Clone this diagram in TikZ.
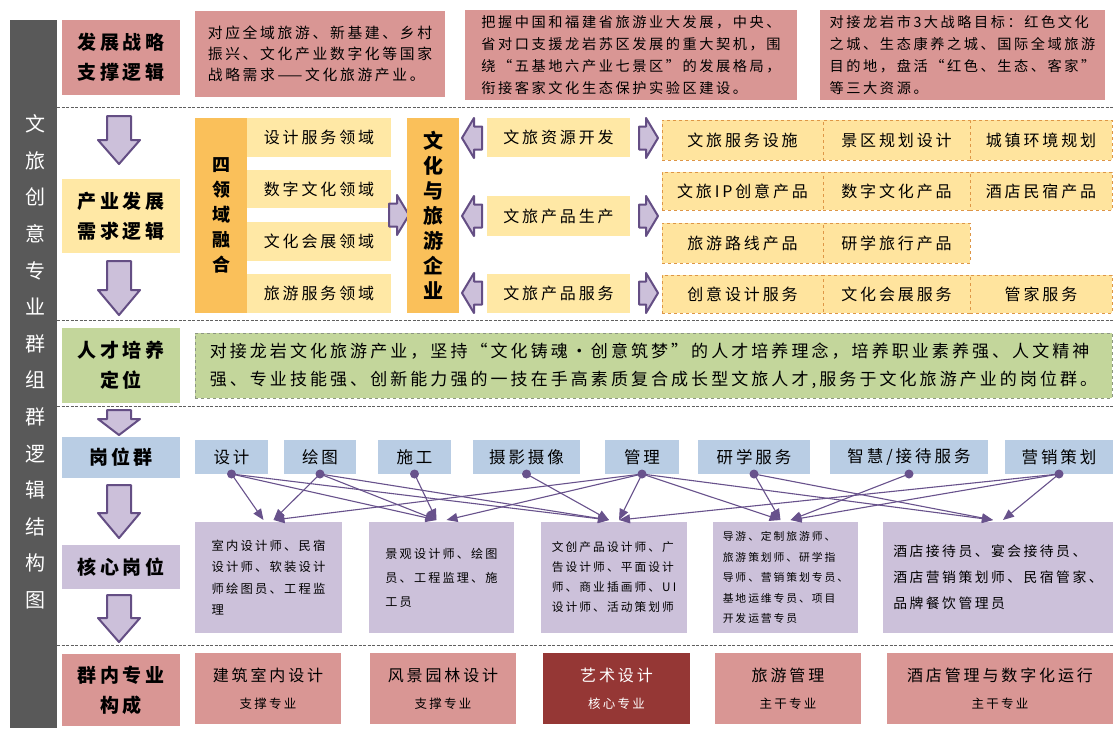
\documentclass[tikz,border=0pt]{standalone}
\usepackage{fontspec}
\setmainfont{Noto Sans CJK SC}[LetterSpace=18]
\usetikzlibrary{arrows.meta}

\definecolor{bargray}{RGB}{89,89,89}
\definecolor{pinkfill}{RGB}{217,150,148}
\definecolor{wine}{RGB}{149,55,53}
\definecolor{paleyellow}{RGB}{255,232,165}
\definecolor{orangefill}{RGB}{250,192,90}
\definecolor{dashfill}{RGB}{255,228,158}
\definecolor{dashline}{RGB}{222,150,70}
\definecolor{greenfill}{RGB}{195,214,155}
\definecolor{greenline}{RGB}{140,150,130}
\definecolor{bluefill}{RGB}{185,205,228}
\definecolor{lavfill}{RGB}{204,193,218}
\definecolor{arrowedge}{RGB}{100,78,132}
\definecolor{arrowfill}{RGB}{204,192,218}
\definecolor{linkcol}{RGB}{104,82,140}
\definecolor{sepgray}{RGB}{95,95,95}

\tikzset{
  cell/.style={inner sep=0pt,outer sep=0pt,anchor=north west,align=center},
  pinkcell/.style={cell,fill=pinkfill},
  yellowcell/.style={cell,fill=paleyellow},
  orangecell/.style={cell,fill=orangefill},
  dashcell/.style={cell,fill=dashfill,draw=dashline,dashed,line width=0.7pt},
  greencell/.style={cell,fill=greenfill},
  bluecell/.style={cell,fill=bluefill},
  lavcell/.style={cell,fill=lavfill},
  sideheading/.style={font=\fontsize{19}{30}\selectfont\bfseries},
  areatext/.style={font=\fontsize{16}{20}\selectfont},
  jobtext/.style={font=\fontsize{16.5}{20}\selectfont},
  septline/.style={draw=sepgray,line width=0.9pt,dash pattern=on 3pt off 1.5pt},
  link/.style={draw=linkcol,line width=1.1pt,-{Triangle[length=11pt,width=9pt]}},
  arrowshape/.style={fill=arrowfill,draw=arrowedge,line width=2pt,line join=round},
}

% #1 tail, #2 direction, #3 length, #4 head length, #5 shaft width, #6 head width
\newcommand{\blockarrow}[6]{%
  \draw[arrowshape,shift={#1},rotate=#2]
    (0,{-#5/2}) -- ({#3-#4},{-#5/2}) -- ({#3-#4},{-#6/2}) -- (#3,0)
    -- ({#3-#4},{#6/2}) -- ({#3-#4},{#5/2}) -- (0,{#5/2}) -- cycle;}

\begin{document}
\begin{tikzpicture}[x=1pt,y=-1pt]
	\fill[white] (0,0) rectangle (1113,731);
	\useasboundingbox (0,0) rectangle (1113,731);

	% left bar
	\fill[bargray] (10,20) rectangle (57,728);
	\node[text=white,align=center,font=\fontsize{20}{36.6}\selectfont] (bartitle) at (35,362)
		{文\\旅\\创\\意\\专\\业\\群\\组\\群\\逻\\辑\\结\\构\\图};

	% separators
	\draw[septline] (57,107) -- (1113,107);
	\draw[septline] (57,320) -- (1113,320);
	\draw[septline] (57,406) -- (1113,406);
	\draw[septline] (57,645) -- (1113,645);

	% row headings
	\node[pinkcell,sideheading,minimum width=118,minimum height=75] (head1) at (62,20) {发展战略\\支撑逻辑};
	\node[yellowcell,sideheading,minimum width=118,minimum height=74] (head2) at (62,179) {产业发展\\需求逻辑};
	\node[greencell,sideheading,minimum width=118,minimum height=75] (head3) at (62,328) {人才培养\\定位};
	\node[bluecell,sideheading,minimum width=118,minimum height=41] (head4) at (62,437) {岗位群};
	\node[lavcell,sideheading,minimum width=118,minimum height=44] (head5) at (62,545) {核心岗位};
	\node[pinkcell,sideheading,minimum width=118,minimum height=72] (head6) at (62,654) {群内专业\\构成};

	\blockarrow{(119,116)}{-90}{48}{24}{24}{42}
	\blockarrow{(119,261)}{-90}{54}{25}{24}{42}
	\blockarrow{(119,410)}{-90}{25}{16}{24}{42}
	\blockarrow{(119,485)}{-90}{53}{25}{24}{42}
	\blockarrow{(119,595)}{-90}{47}{24}{24}{42}

	% strategy
	\node[pinkcell,align=left,font=\fontsize{14.8}{21}\selectfont,minimum width=250,minimum height=86] (goal1) at (195,11)
		{对应全域旅游、新基建、乡村\\振兴、文化产业数字化等国家\\战略需求——文化旅游产业。};
	\node[pinkcell,align=left,font=\fontsize{14.2}{22}\selectfont,minimum width=332,minimum height=90] (goal2) at (465,10)
		{把握中国和福建省旅游业大发展，中央、\\省对口支援龙岩苏区发展的重大契机，围\\绕“五基地六产业七景区”的发展格局，\\衔接客家文化生态保护实验区建设。};
	\node[pinkcell,align=left,font=\fontsize{14.2}{22}\selectfont,minimum width=285,minimum height=90] (goal3) at (820,10)
		{对接龙岩市3大战略目标：红色文化\\之城、生态康养之城、国际全域旅游\\目的地，盘活“红色、生态、客家”\\等三大资源。};

	% industry
	\node[orangecell,font=\fontsize{18}{25}\selectfont\bfseries,minimum width=52,minimum height=195] (fusion) at (195,118) {四\\领\\域\\融\\合};
	\node[yellowcell,areatext,minimum width=144,minimum height=39] (field1) at (247,118) {设计服务领域};
	\node[yellowcell,areatext,minimum width=144,minimum height=38] (field2) at (247,170) {数字文化领域};
	\node[yellowcell,areatext,minimum width=144,minimum height=39] (field3) at (247,222) {文化会展领域};
	\node[yellowcell,areatext,minimum width=144,minimum height=39] (field4) at (247,274) {旅游服务领域};
	\blockarrow{(389,215)}{0}{20}{12}{23}{40}
	\node[orangecell,font=\fontsize{20}{25}\selectfont\bfseries,minimum width=52,minimum height=195] (firm) at (407,118) {文\\化\\与\\旅\\游\\企\\业};

	\blockarrow{(482,138)}{180}{20}{12}{23}{40}
	\blockarrow{(482,216)}{180}{20}{12}{23}{40}
	\blockarrow{(482,293)}{180}{20}{12}{23}{40}
	\node[yellowcell,areatext,minimum width=143,minimum height=39] (chain1) at (487,118) {文旅资源开发};
	\node[yellowcell,areatext,minimum width=143,minimum height=40] (chain2) at (487,196) {文旅产品生产};
	\node[yellowcell,areatext,minimum width=143,minimum height=39] (chain3) at (487,274) {文旅产品服务};
	\blockarrow{(639,138)}{0}{19}{12}{23}{40}
	\blockarrow{(639,216)}{0}{19}{12}{23}{40}
	\blockarrow{(639,293)}{0}{19}{12}{23}{40}

	\node[dashcell,areatext,minimum width=161,minimum height=40] (prod11) at (662,120) {文旅服务设施};
	\node[dashcell,areatext,minimum width=147,minimum height=40] (prod12) at (823,120) {景区规划设计};
	\node[dashcell,areatext,minimum width=142,minimum height=40] (prod13) at (970,120) {城镇环境规划};
	\node[dashcell,areatext,minimum width=161,minimum height=38] (prod21) at (662,172) {文旅IP创意产品};
	\node[dashcell,areatext,minimum width=147,minimum height=38] (prod22) at (823,172) {数字文化产品};
	\node[dashcell,areatext,minimum width=142,minimum height=38] (prod23) at (970,172) {酒店民宿产品};
	\node[dashcell,areatext,minimum width=161,minimum height=40] (prod31) at (662,223) {旅游路线产品};
	\node[dashcell,areatext,minimum width=147,minimum height=40] (prod32) at (823,223) {研学旅行产品};
	\node[dashcell,areatext,minimum width=161,minimum height=38] (prod41) at (662,275) {创意设计服务};
	\node[dashcell,areatext,minimum width=147,minimum height=38] (prod42) at (823,275) {文化会展服务};
	\node[dashcell,areatext,minimum width=142,minimum height=38] (prod43) at (970,275) {管家服务};

	% talent
	\node[greencell,draw=greenline,dashed,line width=0.7pt,align=left,font=\fontsize{17}{28}\selectfont,minimum width=917,minimum height=65] (talent) at (195,333)
		{对接龙岩文化旅游产业，坚持“文化铸魂·创意筑梦”的人才培养理念，培养职业素养强、人文精神\\强、专业技能强、创新能力强的一技在手高素质复合成长型文旅人才,服务于文化旅游产业的岗位群。};

	% job clusters
	\node[bluecell,jobtext,minimum width=73,minimum height=34] (j1) at (195,440) {设计};
	\node[bluecell,jobtext,minimum width=72,minimum height=34] (j2) at (284,440) {绘图};
	\node[bluecell,jobtext,minimum width=73,minimum height=34] (j3) at (378,440) {施工};
	\node[bluecell,jobtext,minimum width=107,minimum height=34] (j4) at (473,440) {摄影摄像};
	\node[bluecell,jobtext,minimum width=74,minimum height=34] (j5) at (605,440) {管理};
	\node[bluecell,jobtext,minimum width=112,minimum height=34] (j6) at (698,440) {研学服务};
	\node[bluecell,jobtext,minimum width=158,minimum height=34] (j7) at (830,440) {智慧/接待服务};
	\node[bluecell,jobtext,minimum width=108,minimum height=34] (j8) at (1005,440) {营销策划};

	% core posts
	\node[lavcell,align=left,font=\fontsize{12.3}{21.5}\selectfont,minimum width=147,minimum height=111] (c1) at (195,522)
		{室内设计师、民宿\\设计师、软装设计\\师绘图员、工程监\\理};
	\node[lavcell,align=left,font=\fontsize{12.1}{24}\selectfont,minimum width=145,minimum height=111] (c2) at (369,522)
		{景观设计师、绘图\\员、工程监理、施\\工员};
	\node[lavcell,align=left,font=\fontsize{11.7}{20}\selectfont,minimum width=146,minimum height=111] (c3) at (541,522)
		{文创产品设计师、广\\告设计师、平面设计\\师、商业插画师、UI\\设计师、活动策划师};
	\node[lavcell,align=left,font=\fontsize{10.8}{20.5}\selectfont,minimum width=145,minimum height=111] (c4) at (713,522)
		{导游、定制旅游师、\\旅游策划师、研学指\\导师、营销策划专员、\\基地运维专员、项目\\开发运营专员};
	\node[lavcell,align=left,font=\fontsize{13.8}{26}\selectfont,minimum width=230,minimum height=111] (c5) at (883,522)
		{酒店接待员、宴会接待员、\\酒店营销策划师、民宿管家、\\品牌餐饮管理员};

	\coordinate (c1l) at ([xshift=-5pt,yshift=2pt]c1.north);
	\coordinate (c1r) at ([xshift=5pt,yshift=2pt]c1.north);
	\coordinate (c2l) at ([xshift=-5pt,yshift=2pt]c2.north);
	\coordinate (c2r) at ([xshift=5pt,yshift=2pt]c2.north);
	\coordinate (c3l) at ([xshift=-5pt,yshift=2pt]c3.north);
	\coordinate (c3r) at ([xshift=5pt,yshift=2pt]c3.north);
	\coordinate (c4l) at ([xshift=-5pt,yshift=2pt]c4.north);
	\coordinate (c4r) at ([xshift=5pt,yshift=2pt]c4.north);
	\coordinate (c5l) at ([xshift=-5pt,yshift=2pt]c5.north);
	\coordinate (c5r) at ([xshift=5pt,yshift=2pt]c5.north);

	\draw[link] (j1.south) -- (c1l);
	\draw[link] (j1.south) -- (c2l);
	\draw[link] (j1.south) -- (c3l);
	\draw[link] (j2.south) -- (c1r);
	\draw[link] (j2.south) -- (c2l);
	\draw[link] (j2.south) -- (c3l);
	\draw[link] (j3.south) -- (c2l);
	\draw[link] (j4.south) -- (c3l);
	\draw[link] (j5.south) -- (c1r);
	\draw[link] (j5.south) -- (c2r);
	\draw[link] (j5.south) -- (c3r);
	\draw[link] (j5.south) -- (c4l);
	\draw[link] (j5.south) -- (c5l);
	\draw[link] (j6.south) -- (c4l);
	\draw[link] (j6.south) -- (c5l);
	\draw[link] (j7.south) -- (c4r);
	\draw[link] (j8.south) -- (c3r);
	\draw[link] (j8.south) -- (c4r);
	\draw[link] (j8.south) -- (c5r);
	\fill[linkcol] (j1.south) circle[radius=4.5pt];
	\fill[linkcol] (j2.south) circle[radius=4.5pt];
	\fill[linkcol] (j3.south) circle[radius=4.5pt];
	\fill[linkcol] (j4.south) circle[radius=4.5pt];
	\fill[linkcol] (j5.south) circle[radius=4.5pt];
	\fill[linkcol] (j6.south) circle[radius=4.5pt];
	\fill[linkcol] (j7.south) circle[radius=4.5pt];
	\fill[linkcol] (j8.south) circle[radius=4.5pt];

	% majors
	\node[pinkcell,font=\fontsize{16}{27}\selectfont,minimum width=146,minimum height=71] (m1) at (195,653)
		{建筑室内设计\\{\fontsize{12.5}{15}\selectfont 支撑专业}};
	\node[pinkcell,font=\fontsize{16}{27}\selectfont,minimum width=146,minimum height=71] (m2) at (370,653)
		{风景园林设计\\{\fontsize{12.5}{15}\selectfont 支撑专业}};
	\node[cell,fill=wine,text=white,font=\fontsize{16}{27}\selectfont,minimum width=147,minimum height=71] (m3) at (543,653)
		{艺术设计\\{\fontsize{12.5}{15}\selectfont 核心专业}};
	\node[pinkcell,font=\fontsize{16}{27}\selectfont,minimum width=146,minimum height=71] (m4) at (715,653)
		{旅游管理\\{\fontsize{12.5}{15}\selectfont 主干专业}};
	\node[pinkcell,font=\fontsize{16}{27}\selectfont,minimum width=226,minimum height=71] (m5) at (887,653)
		{酒店管理与数字化运行\\{\fontsize{12.5}{15}\selectfont 主干专业}};
\end{tikzpicture}
\end{document}
